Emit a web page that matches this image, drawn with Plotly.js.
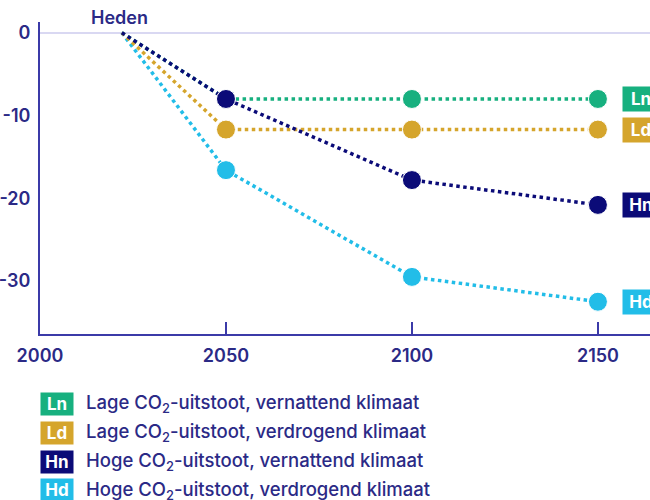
<!DOCTYPE html>
<html>
<head>
<meta charset="utf-8">
<script src="https://cdn.plot.ly/plotly-3.0.1.min.js"></script>
<style>html,body{margin:0;padding:0;background:#fff;}#chart{width:650px;height:500px;}</style>
</head>
<body>
<div id="chart"></div>
<script>
const years = [2022, 2050, 2100, 2150];
const codes = ["Ln", "Ld", "Hn", "Hd"];
const names = [
  "Lage CO<sub>2</sub>-uitstoot, vernattend klimaat",
  "Lage CO<sub>2</sub>-uitstoot, verdrogend klimaat",
  "Hoge CO<sub>2</sub>-uitstoot, vernattend klimaat",
  "Hoge CO<sub>2</sub>-uitstoot, verdrogend klimaat"
];
const Ln = [0, -8, -8, -8];
const Ld = [0, -11.7, -11.7, -11.7];
const Hn = [0, -8, -17.8, -20.8];
const Hd = [0, -16.6, -29.5, -32.5];
const series = [Ln, Ld, Hn, Hd];
const colors = ["#17b07f", "#d5a52c", "#0b0b78", "#22bde8"];
const xTicks = [2000, 2050, 2100, 2150];
const yTicks = [0, -10, -20, -30];
const yTickText = ["0", "-10", "-20", "-30"];
const hedenLabel = "Heden";

const drawOrder = [0, 3, 1, 2];
const traces = drawOrder.map(i => ({
  x: years, y: series[i], type: "scatter", mode: "lines+markers",
  line: {color: colors[i], width: 3.5, dash: "dot"},
  marker: {color: colors[i], size: [0, 19, 19, 19], opacity: 1},
  name: codes[i], showlegend: false, hoverinfo: "skip"
}));

const txt = "#2b2a86";
const annotations = [];
annotations.push({x: 2021.5, y: 1, xref: "x", yref: "paper", yanchor: "bottom", text: hedenLabel,
  showarrow: false, font: {family: "Inter", size: 18, color: txt, weight: 600}, yshift: -8});
codes.forEach((c, i) => {
  annotations.push({x: years[3], y: series[i][3], xref: "x", yref: "y", xanchor: "left", yanchor: "middle",
    xshift: 24, text: c, showarrow: false, bgcolor: colors[i], borderpad: 2, width: 32,
    font: {family: "Inter", size: 17, color: "#ffffff", weight: 700}});
});
const legY = [-0.224, -0.317, -0.41, -0.50];
codes.forEach((c, i) => {
  annotations.push({x: 0, y: legY[i], xref: "paper", yref: "paper", xanchor: "left", yanchor: "middle",
    text: c, showarrow: false, bgcolor: colors[i], borderpad: 1, width: 30,
    font: {family: "Inter", size: 17, color: "#ffffff", weight: 700}});
  annotations.push({x: 0.072, y: legY[i], xref: "paper", yref: "paper", xanchor: "left", yanchor: "middle",
    text: names[i], showarrow: false,
    font: {family: "Inter", size: 18.5, color: txt, weight: 500}});
});

const layout = {
  width: 650, height: 500,
  margin: {l: 40, r: 0, t: 22, b: 166},
  paper_bgcolor: "#ffffff", plot_bgcolor: "#ffffff",
  showlegend: false,
  xaxis: {range: [2000, 2164], tickvals: xTicks, ticktext: xTicks.map(String),
    showgrid: false, zeroline: false, showline: true, linecolor: "#3b3aa8", linewidth: 2,
    ticks: "inside", ticklen: 12, tickwidth: 2, tickcolor: "#3b3aa8",
    tickfont: {family: "Inter", size: 18, color: txt, weight: 600}, ticklabelstandoff: 4},
  yaxis: {range: [-36.4, 1.3], tickvals: yTicks, ticktext: yTickText,
    showgrid: false, zeroline: true, zerolinecolor: "#d9d8f2", zerolinewidth: 2,
    showline: true, linecolor: "#3b3aa8", linewidth: 2, ticks: "",
    tickfont: {family: "Inter", size: 18, color: txt, weight: 600}, ticklabelstandoff: 4},
  annotations: annotations
};
Plotly.newPlot("chart", traces, layout, {displayModeBar: false, staticPlot: true});
</script>
</body>
</html>
